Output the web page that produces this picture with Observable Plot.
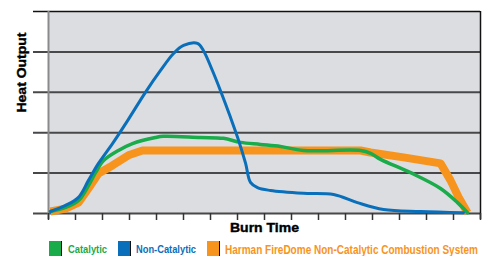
<!DOCTYPE html>
<html>
<head>
<meta charset="utf-8">
<script src="https://cdn.jsdelivr.net/npm/d3@7"></script>
<script src="https://cdn.jsdelivr.net/npm/@observablehq/plot@0.6"></script>
<style>
  html, body { margin: 0; padding: 0; background: #fff; }
  #wrap { position: relative; width: 489px; height: 256px; font-family: "Liberation Sans", Arial, sans-serif; }
  .sw { position: absolute; top: 241px; width: 13px; height: 15px; border-right: 1.5px solid #111; box-sizing: border-box; }
  .lt { position: absolute; font-weight: bold; white-space: nowrap; width: max-content; transform-origin: left center; }
</style>
</head>
<body>
<div id="wrap"></div>
<script>
// Burn time ticks (x units) and heat output gridlines (y units)
const xTicks = [0,1,2,3,4,5,6,7,8,9,10,11,12,13,14,15,16];
const yGrid = [0,1,2,3,4];
const yTop = [5];

// Catalytic (green)
const catX = [0.07,0.63,1.11,1.48,1.74,2.04,2.59,3.11,3.96,4.26,5.63,6.48,7.11,7.85,8.59,9.44,11.56,11.93,12.30,13.41,14.52,15.15,15.52];
const catY = [0.05,0.15,0.32,0.69,1.01,1.31,1.56,1.73,1.88,1.91,1.88,1.86,1.76,1.71,1.66,1.56,1.56,1.49,1.34,1.01,0.62,0.27,0.02];

// Non-Catalytic (blue)
const nonX = [0.07,0.63,1.11,1.48,1.85,2.37,2.93,3.59,4.15,4.63,5.00,5.52,5.74,6.07,6.37,6.74,7.04,7.30,7.48,7.74,8.22,9.44,10.56,11.44,12.41,13.78,15.37];
const nonY = [0.05,0.20,0.40,0.82,1.24,1.73,2.30,3.00,3.54,3.96,4.16,4.21,4.03,3.54,3.04,2.38,1.81,1.24,0.77,0.64,0.57,0.50,0.47,0.27,0.10,0.05,0.02];

// Harman FireDome (orange)
const harX = [0.07,0.63,1.11,1.48,1.85,2.37,2.96,3.48,3.96,11.56,11.93,13.15,14.52,14.89,15.19,15.52];
const harY = [0.05,0.12,0.27,0.62,0.99,1.19,1.44,1.56,1.56,1.56,1.51,1.39,1.24,0.82,0.40,0.02];

const seriesNames = ["Catalytic", "Non-Catalytic", "Harman FireDome Non-Catalytic Combustion System"];
const seriesColors = ["#1aab4a", "#0a6fba", "#f7941d"];

const zip = (xs, ys) => xs.map((x, i) => ({x, y: ys[i]}));
const cat = zip(catX, catY), non = zip(nonX, nonY), har = zip(harX, harY);

const plot = Plot.plot({
  width: 489,
  height: 256,
  marginLeft: 48,
  marginRight: 9,
  marginTop: 11,
  marginBottom: 43,
  x: {domain: [0, 16], axis: null},
  y: {domain: [0, 5], axis: null},
  style: {fontFamily: "Liberation Sans, Arial, sans-serif", background: "#fff"},
  marks: [
    Plot.frame({fill: "#dcdde0", stroke: null}),
    Plot.ruleY(yGrid, {stroke: "#48484a", strokeWidth: 2, insetLeft: -15}),
    Plot.ruleY(yTop, {stroke: "#111", strokeWidth: 1.5, insetLeft: -15}),
    Plot.ruleX([0], {stroke: "#8a8a8c", strokeWidth: 2, insetBottom: -6}),
    Plot.ruleX([16], {stroke: "#111", strokeWidth: 1.5, insetBottom: -6}),
    Plot.axisX({ticks: xTicks, tickSize: 7, tickFormat: () => "", label: null, stroke: "#333", strokeWidth: 1.5}),
    Plot.line(har, {x: "x", y: "y", stroke: seriesColors[2], strokeWidth: 8, strokeLinejoin: "round", strokeLinecap: "butt", curve: "linear"}),
    Plot.line(cat, {x: "x", y: "y", stroke: seriesColors[0], strokeWidth: 3.5, strokeLinejoin: "round", curve: "catmull-rom"}),
    Plot.line(non, {x: "x", y: "y", stroke: seriesColors[1], strokeWidth: 3, strokeLinejoin: "round", curve: "catmull-rom"}),
    Plot.text(["Burn Time"], {frameAnchor: "bottom", dy: 18, fontSize: 13, fontWeight: "bold", fill: "#000", text: d => d}),
    Plot.text(["Heat Output"], {frameAnchor: "left", dx: -27, rotate: -90, fontSize: 13, fontWeight: "bold", fill: "#000", text: d => d})
  ]
});
const wrap = document.getElementById("wrap");
wrap.appendChild(plot);

// widen the bold titles like the reference
d3.select(plot).selectAll("text").each(function() {
  const t = this.textContent;
  if (t === "Burn Time") { this.setAttribute("textLength", 69); this.setAttribute("lengthAdjust", "spacingAndGlyphs"); this.setAttribute("stroke", "#000"); this.setAttribute("stroke-width", 0.4); }
  if (t === "Heat Output") { this.setAttribute("textLength", 80); this.setAttribute("lengthAdjust", "spacingAndGlyphs"); this.setAttribute("stroke", "#000"); this.setAttribute("stroke-width", 0.4); }
});

// legend
const legendItems = [
  {sw: 49, tx: 68, w: 39, size: 10},
  {sw: 118, tx: 136, w: 60, size: 10},
  {sw: 207, tx: 225, w: 253, size: 13}
];
legendItems.forEach((it, i) => {
  const s = document.createElement("div");
  s.className = "sw";
  s.style.left = it.sw + "px";
  s.style.background = seriesColors[i];
  wrap.appendChild(s);
  const t = document.createElement("div");
  t.className = "lt";
  t.textContent = seriesNames[i];
  t.style.left = it.tx + "px";
  t.style.fontSize = it.size + "px";
  t.style.color = seriesColors[i];
  t.style.lineHeight = "1";
  t.style.top = (i === 2 ? 243 : 245) + "px";
  wrap.appendChild(t);
  const w = t.getBoundingClientRect().width;
  t.style.transform = "scaleX(" + (it.w / w) + ")";
});
</script>
</body>
</html>
